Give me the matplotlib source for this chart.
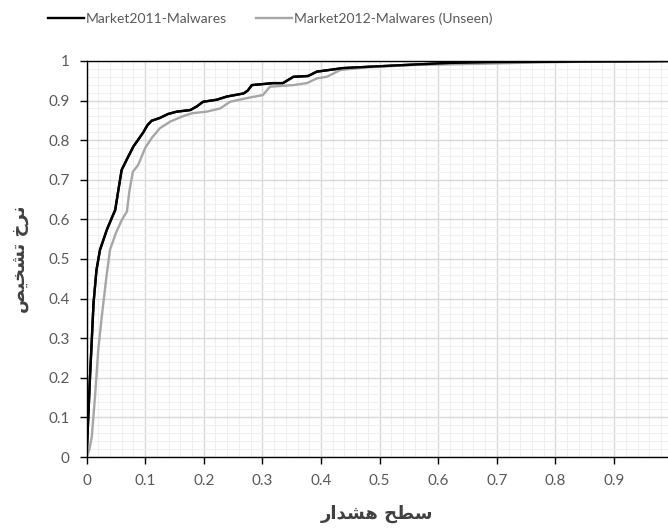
import matplotlib
matplotlib.use("Agg")
import matplotlib.pyplot as plt
from matplotlib.ticker import MultipleLocator, FormatStrFormatter

# curve points (alarm level vs detection rate)
x_2011 = [0, 0.003, 0.006, 0.009, 0.012, 0.017, 0.023, 0.035, 0.049, 0.055, 0.06, 0.07,
          0.08, 0.09, 0.097, 0.104, 0.111, 0.125, 0.139, 0.154, 0.177, 0.188, 0.199,
          0.222, 0.239, 0.268, 0.275, 0.282, 0.318, 0.335, 0.353, 0.378, 0.393,
          0.438, 0.478, 0.547, 0.62, 0.689, 0.8, 1.0]
y_2011 = [0, 0.10, 0.203, 0.295, 0.389, 0.472, 0.523, 0.575, 0.624, 0.68, 0.725, 0.755,
          0.784, 0.805, 0.82, 0.838, 0.849, 0.856, 0.866, 0.872, 0.876, 0.885, 0.897,
          0.902, 0.91, 0.918, 0.925, 0.939, 0.944, 0.944, 0.96, 0.962, 0.973,
          0.982, 0.985, 0.99, 0.995, 0.997, 0.998, 1.0]

x_2012 = [0, 0.005, 0.009, 0.0145, 0.02, 0.026, 0.034, 0.04, 0.05, 0.06, 0.069, 0.073,
          0.079, 0.088, 0.1, 0.111, 0.125, 0.143, 0.162, 0.18, 0.205, 0.228, 0.245,
          0.273, 0.301, 0.313, 0.353, 0.376, 0.393, 0.41, 0.433, 0.478, 0.563,
          0.677, 0.762, 0.85, 1.0]
y_2012 = [0, 0.02, 0.051, 0.152, 0.27, 0.354, 0.455, 0.523, 0.565, 0.598, 0.62, 0.67,
          0.72, 0.737, 0.78, 0.805, 0.83, 0.847, 0.859, 0.868, 0.872, 0.88, 0.897,
          0.906, 0.914, 0.935, 0.939, 0.944, 0.956, 0.96, 0.977, 0.984, 0.99,
          0.993, 0.996, 0.998, 1.0]

series_names = ["Market2011-Malwares", "Market2012-Malwares (Unseen)"]
x_ticks = [0, 0.1, 0.2, 0.3, 0.4, 0.5, 0.6, 0.7, 0.8, 0.9]

# Persian labels in presentation forms (visual order) since matplotlib does no shaping
x_label = "\uFEAD\uFE8D\uFEAA\uFEB8\uFEEB \uFEA2\uFEC4\uFEB3"   # سطح هشدار
y_label = "\uFEBA\uFEF4\uFEA8\uFEB8\uFE97 \uFEA5\uFEAE\uFEE7"   # نرخ تشخیص

plt.rcParams["font.family"] = ["Lato", "DejaVu Sans"]
txt_col = "#595959"

fig = plt.figure(figsize=(6.68, 5.3), dpi=100)
ax = fig.add_axes([0.1295, 0.1377, 0.8705, 0.7473])

l1, = ax.plot(x_2011, y_2011, color="black", lw=1.7, label=series_names[0])
l2, = ax.plot(x_2012, y_2012, color="#a6a6a6", lw=1.7, label=series_names[1])
ax.plot(x_2011, y_2011, color="black", lw=1.7, zorder=3)

ax.set_xlim(0, 0.992)
ax.set_ylim(0, 1)
ax.set_xticks(x_ticks)
ax.xaxis.set_major_formatter(FormatStrFormatter("%g"))
ax.yaxis.set_major_locator(MultipleLocator(0.1))
ax.yaxis.set_major_formatter(FormatStrFormatter("%g"))
ax.xaxis.set_minor_locator(MultipleLocator(0.02))
ax.yaxis.set_minor_locator(MultipleLocator(0.02))

ax.grid(which="major", color="#d9d9d9", lw=1.0)
ax.grid(which="minor", color="#efefef", lw=0.8)
ax.set_axisbelow(True)

ax.spines["right"].set_visible(False)
for s in ["left", "bottom", "top"]:
    ax.spines[s].set_color("black")
    ax.spines[s].set_linewidth(1.0)

ax.tick_params(which="major", direction="out", length=5, width=1, color="black",
               labelsize=11, labelcolor=txt_col, pad=7)
ax.tick_params(which="minor", length=0)

ax.set_xlabel(x_label, family=["DejaVu Sans"], fontsize=13, fontweight="bold",
              color="#404040", labelpad=12)
ax.set_ylabel(y_label, family=["DejaVu Sans"], fontsize=13, fontweight="bold",
              color="#404040", labelpad=14)

fig.legend(handles=[l1, l2], loc="upper left", bbox_to_anchor=(0.066, 0.985), ncol=2,
           frameon=False, fontsize=10, labelcolor=txt_col, handlelength=2.6,
           handletextpad=0.1, columnspacing=2.1, borderpad=0, borderaxespad=0.3)

fig.savefig("out.png", dpi=100)
